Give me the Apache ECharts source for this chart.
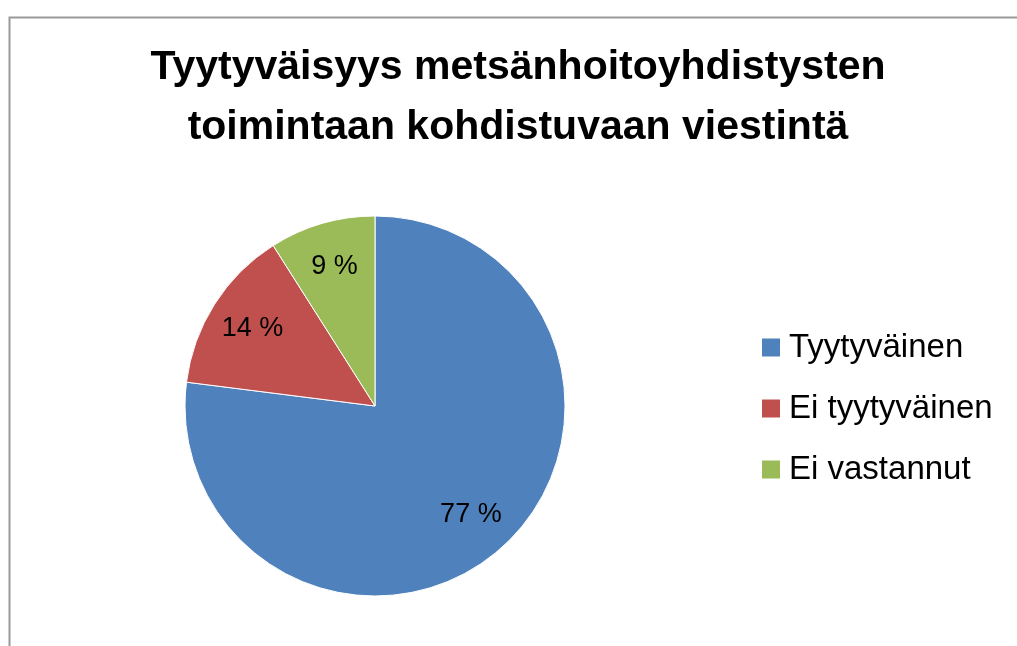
<!DOCTYPE html>
<html>
<head>
<meta charset="utf-8">
<script src="https://cdn.jsdelivr.net/npm/echarts@6/dist/echarts.min.js"></script>
<style>
	html, body { margin: 0; padding: 0; background: #fff; }
	#chart { width: 1017px; height: 646px; }
</style>
</head>
<body>
<div id="chart"></div>
<script>
	// data
	const categories = ['Tyytyväinen', 'Ei tyytyväinen', 'Ei vastannut']
	const values = [77, 14, 9]
	const colors = ['#4f81bd', '#c0504d', '#9bbb59']

	const pieData = categories.map((name, i) => ({ name: name, value: values[i] }))

	let mychart = echarts.init(document.getElementById('chart'))
	mychart.setOption({
		animation: false,
		color: colors,
		title: {
			text: 'Tyytyväisyys metsänhoitoyhdistysten\ntoimintaan kohdistuvaan viestintä',
			left: 513,
			top: 33,
			textAlign: 'center',
			textStyle: {
				fontFamily: 'Liberation Sans',
				fontWeight: 'bold',
				fontSize: 41,
				lineHeight: 60,
				color: '#000'
			}
		},
		legend: {
			orient: 'vertical',
			left: 755,
			top: 326,
			icon: 'rect',
			itemWidth: 20,
			itemHeight: 20,
			itemGap: 28,
			data: categories,
			textStyle: {
				fontFamily: 'Liberation Sans',
				fontSize: 33,
				lineHeight: 33,
				color: '#000',
				padding: [0, 0, 0, 3]
			}
		},
		graphic: [{
			type: 'rect',
			left: 7,
			top: 15,
			shape: { width: 1030, height: 650 },
			style: { fill: 'none', stroke: '#999', lineWidth: 2 },
			silent: true
		}],
		series: [{
				name: 'pie',
				type: 'pie',
				center: [375, 406],
				radius: [0, 190],
				startAngle: 90,
				clockwise: true,
				label: { show: false },
				labelLine: { show: false },
				itemStyle: { borderColor: '#fff', borderWidth: 1 },
				data: pieData
			},
			{
				// invisible ring only for placing the labels further out
				name: 'labels',
				type: 'pie',
				center: [375, 406],
				radius: [0, 284],
				startAngle: 90,
				clockwise: true,
				silent: true,
				z: 3,
				itemStyle: { color: 'rgba(0,0,0,0)' },
				label: {
					show: true,
					position: 'inside',
					formatter: '{c} %',
					fontFamily: 'Liberation Sans',
					fontSize: 27,
					color: '#000'
				},
				labelLine: { show: false },
				data: pieData
			}
		]
	})
</script>
</body>
</html>
